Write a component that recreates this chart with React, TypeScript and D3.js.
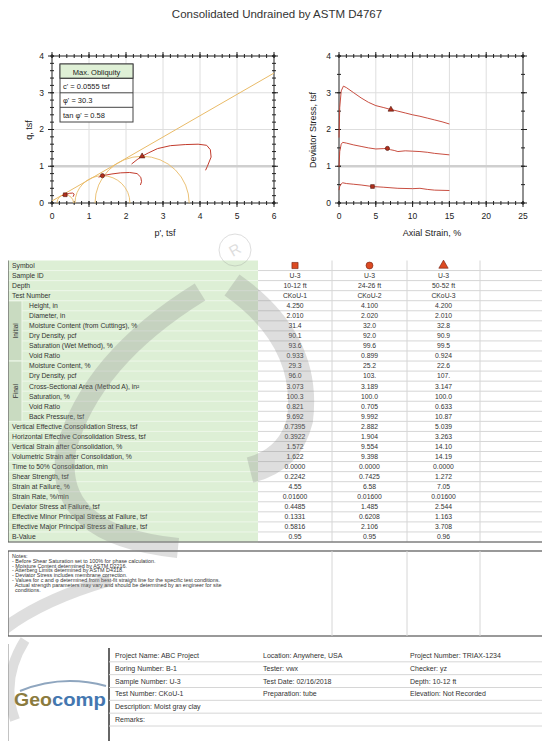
import React from 'react';
import * as d3 from 'd3';

const font = "'Liberation Sans', Arial, sans-serif";

// effective stress paths (p', q), tsf
const path1P = [0.57, 0.6, 0.56, 0.48, 0.4, 0.357, 0.31, 0.27];
const path1Q = [0.17, 0.24, 0.27, 0.265, 0.24, 0.224, 0.21, 0.2];
const path2P = [2.39, 2.42, 2.4, 2.3, 2.1, 1.85, 1.62, 1.45, 1.363, 1.3, 1.26];
const path2Q = [0.49, 0.58, 0.7, 0.8, 0.83, 0.82, 0.79, 0.76, 0.743, 0.72, 0.7];
const path3P = [4.15, 4.2, 4.3, 4.28, 4.18, 3.95, 3.6, 3.2, 2.85, 2.6, 2.436, 2.3, 2.15];
const path3Q = [0.89, 1.0, 1.25, 1.45, 1.57, 1.6, 1.59, 1.56, 1.48, 1.36, 1.272, 1.18, 1.06];

// stresses at failure, tsf
const sigma3 = [0.1331, 0.6208, 1.163];
const sigma1 = [0.5816, 2.106, 3.708];
const failStrain = [4.55, 6.58, 7.05];
const failDev = [0.4485, 1.485, 2.544];
const cohesion = 0.0555;
const tanPhi = 0.58;

// deviator stress vs axial strain
const strain1 = [0, 0.1, 0.3, 0.5, 1, 2, 3, 4.55, 6, 8, 10, 11, 12, 13, 15];
const dev1 = [0.35, 0.45, 0.52, 0.55, 0.53, 0.51, 0.49, 0.4485, 0.43, 0.4, 0.39, 0.4, 0.37, 0.35, 0.34];
const strain2 = [0, 0.1, 0.3, 0.5, 1, 2, 3, 4, 5, 6, 6.58, 7, 7.5, 8, 9, 10, 11, 12, 13, 14, 15];
const dev2 = [0.98, 1.4, 1.6, 1.65, 1.63, 1.58, 1.54, 1.5, 1.47, 1.48, 1.485, 1.45, 1.43, 1.4, 1.42, 1.41, 1.4, 1.38, 1.35, 1.33, 1.31];
const strain3 = [0, 0.1, 0.3, 0.6, 1, 2, 3, 4, 5, 6, 7.05, 8, 9, 10, 11, 12, 13, 14, 15];
const dev3 = [1.78, 2.6, 3.05, 3.18, 3.14, 3.0, 2.86, 2.74, 2.65, 2.6, 2.544, 2.5, 2.45, 2.4, 2.36, 2.31, 2.26, 2.21, 2.15];

const legendLines = ["c' = 0.0555 tsf", "\u03c6' = 30.3", "tan \u03c6' = 0.58"];

// table
const rowLabels = [
  'Symbol', 'Sample ID', 'Depth', 'Test Number',
  'Height, in', 'Diameter, in', 'Moisture Content (from Cuttings), %', 'Dry Density, pcf',
  'Saturation (Wet Method), %', 'Void Ratio',
  'Moisture Content, %', 'Dry Density, pcf', 'Cross-Sectional Area (Method A), in\u00b2',
  'Saturation, %', 'Void Ratio', 'Back Pressure, tsf',
  'Vertical Effective Consolidation Stress, tsf', 'Horizontal Effective Consolidation Stress, tsf',
  'Vertical Strain after Consolidation, %', 'Volumetric Strain after Consolidation, %',
  'Time to 50% Consolidation, min', 'Shear Strength, tsf', 'Strain at Failure, %',
  'Strain Rate, %/min', 'Deviator Stress at Failure, tsf',
  'Effective Minor Principal Stress at Failure, tsf', 'Effective Major Principal Stress at Failure, tsf',
  'B-Value',
];
const test1Values = ['', 'U-3', '10-12 ft', 'CKoU-1', '4.250', '2.010', '31.4', '90.1', '93.6', '0.933', '29.3', '96.0', '3.073', '100.3', '0.821', '9.692', '0.7395', '0.3922', '1.572', '1.622', '0.0000', '0.2242', '4.55', '0.01600', '0.4485', '0.1331', '0.5816', '0.95'];
const test2Values = ['', 'U-3', '24-26 ft', 'CKoU-2', '4.100', '2.020', '32.0', '92.0', '99.6', '0.899', '25.2', '103.', '3.189', '100.0', '0.705', '9.992', '2.882', '1.904', '9.554', '9.398', '0.0000', '0.7425', '6.58', '0.01600', '1.485', '0.6208', '2.106', '0.95'];
const test3Values = ['', 'U-3', '50-52 ft', 'CKoU-3', '4.200', '2.010', '32.8', '90.9', '99.5', '0.924', '22.6', '107.', '3.147', '100.0', '0.633', '10.87', '5.039', '3.263', '14.10', '14.19', '0.0000', '1.272', '7.05', '0.01600', '2.544', '1.163', '3.708', '0.96'];
const groupNames = ['Initial', 'Final'];
const groupStart = [4, 10];
const groupEnd = [9, 15];
const symbolTypes = [d3.symbolSquare, d3.symbolCircle, d3.symbolTriangle];

const notes = [
  'Notes:',
  '- Before Shear Saturation set to 100% for phase calculation.',
  '- Moisture Content determined by ASTM D2216.',
  '- Atterberg Limits determined by ASTM D4318.',
  '- Deviator Stress includes membrane correction.',
  '- Values for c and \u03c6 determined from best-fit straight line for the specific test conditions.',
  '  Actual strength parameters may vary and should be determined by an engineer for site',
  '  conditions.',
];

const infoCol1 = ['Project Name: ABC Project', 'Boring Number: B-1', 'Sample Number: U-3', 'Test Number: CKoU-1', 'Description: Moist gray clay', 'Remarks:'];
const infoCol2 = ['Location: Anywhere, USA', 'Tester: vwx', 'Test Date: 02/16/2018', 'Preparation: tube', '', ''];
const infoCol3 = ['Project Number: TRIAX-1234', 'Checker: yz', 'Depth: 10-12 ft', 'Elevation: Not Recorded', '', ''];

const pathColor = '#c23b2c';
const mohrColor = '#e9bb68';
const markerFill = '#b3301d';

const zip = (a: number[], b: number[]) => a.map((v, i) => [v, b[i]] as [number, number]);

const PlotFrame = ({ x, y, xMajor, xMinorStep, yMajor, yMinorStep }: any) => {
  const [x0, x1] = x.range();
  const [y0, y1] = y.range();
  const xMinor = d3.range(x.domain()[0], x.domain()[1] + 1e-6, xMinorStep);
  const yMinor = d3.range(y.domain()[0], y.domain()[1] + 1e-6, yMinorStep);
  return (
    <g>
      {xMajor.slice(1, -1).map((v: number) => (
        <line key={'gx' + v} x1={x(v)} x2={x(v)} y1={y0} y2={y1} stroke="#dedede" />
      ))}
      {yMajor.slice(1, -1).map((v: number) => (
        <line key={'gy' + v} x1={x0} x2={x1} y1={y(v)} y2={y(v)} stroke={v === 1 ? '#cfcfcf' : '#dedede'} strokeWidth={v === 1 ? 2.5 : 1} />
      ))}
      <rect x={x0} y={y1} width={x1 - x0} height={y0 - y1} fill="none" stroke="#222" />
      {xMinor.map((v: number) => (
        <g key={'mx' + v} stroke="#222">
          <line x1={x(v)} x2={x(v)} y1={y0 - 2} y2={y0 + 2} />
          <line x1={x(v)} x2={x(v)} y1={y1 - 2} y2={y1 + 2} />
        </g>
      ))}
      {yMinor.map((v: number) => (
        <g key={'my' + v} stroke="#222">
          <line x1={x0 - 2} x2={x0 + 2} y1={y(v)} y2={y(v)} />
          <line x1={x1 - 2} x2={x1 + 2} y1={y(v)} y2={y(v)} />
        </g>
      ))}
      {xMajor.map((v: number) => (
        <g key={'tx' + v}>
          <line x1={x(v)} x2={x(v)} y1={y0 - 2} y2={y0 + 4} stroke="#222" />
          <line x1={x(v)} x2={x(v)} y1={y1 - 4} y2={y1 + 2} stroke="#222" />
          <text x={x(v)} y={y0 + 16} textAnchor="middle" fontSize={8.5} fill="#222">{v}</text>
        </g>
      ))}
      {yMajor.map((v: number) => (
        <g key={'ty' + v}>
          <line x1={x0 - 4} x2={x0 + 2} y1={y(v)} y2={y(v)} stroke="#222" />
          <line x1={x1 - 2} x2={x1 + 4} y1={y(v)} y2={y(v)} stroke="#222" />
          <text x={x0 - 8} y={y(v)} dy="0.35em" textAnchor="end" fontSize={8.5} fill="#222">{v}</text>
        </g>
      ))}
    </g>
  );
};

const Marker = ({ type, cx, cy, size, fill, stroke }: any) => (
  <path d={d3.symbol().type(type).size(size)() || ''} transform={`translate(${cx},${cy})`} fill={fill} stroke={stroke} strokeWidth={0.6} />
);

const App = () => {
  const xL = d3.scaleLinear().domain([0, 6]).range([52, 274]);
  const yL = d3.scaleLinear().domain([0, 4]).range([203, 56]);
  const xR = d3.scaleLinear().domain([0, 25]).range([339, 523]);
  const yR = d3.scaleLinear().domain([0, 4]).range([203, 56]);

  const lineL = d3.line<[number, number]>().x((d) => xL(d[0])).y((d) => yL(d[1]));
  const lineR = d3.line<[number, number]>().x((d) => xR(d[0])).y((d) => yR(d[1]));

  const stressPaths = [zip(path1P, path1Q), zip(path2P, path2Q), zip(path3P, path3Q)];
  const devCurves = [zip(strain1, dev1), zip(strain2, dev2), zip(strain3, dev3)];

  const rowY = d3.scaleLinear().domain([0, rowLabels.length]).range([260.5, 542]);
  const colEdges = [258, 332, 407, 480, 548];
  const tableLeft = 8;
  const tableRight = 548;
  const values = [test1Values, test2Values, test3Values];

  const infoY = d3.scaleLinear().domain([0, infoCol1.length]).range([649, 726]);
  const infoX = [115, 263, 410];

  return (
    <svg width={550} height={749} style={{ display: 'block', margin: '-8px' }} fontFamily={font}>
      <rect width={550} height={749} fill="#fff" />
      <text x={277} y={18} textAnchor="middle" fontSize={11.5} fill="#333">Consolidated Undrained by ASTM D4767</text>

      {/* p'-q plot */}
      <defs>
        <clipPath id="clipL"><rect x={52} y={56} width={222} height={147} /></clipPath>
      </defs>
      <PlotFrame x={xL} y={yL} xMajor={d3.range(0, 7)} xMinorStep={0.2} yMajor={d3.range(0, 5)} yMinorStep={0.2} />
      <g clipPath="url(#clipL)" fill="none">
        <line x1={xL(0)} y1={yL(cohesion)} x2={xL(6)} y2={yL(cohesion + 6 * tanPhi)} stroke={mohrColor} strokeWidth={1} />
        {sigma3.map((s3, i) => {
          const r = (sigma1[i] - s3) / 2;
          const rx = xL(r) - xL(0);
          const ry = yL(0) - yL(r);
          return <path key={'m' + i} d={`M${xL(s3)},${yL(0)} A${rx},${ry} 0 0 1 ${xL(sigma1[i])},${yL(0)}`} stroke={mohrColor} strokeWidth={0.9} />;
        })}
        {stressPaths.map((p, i) => (
          <path key={'sp' + i} d={lineL(p) || ''} stroke={pathColor} strokeWidth={1} />
        ))}
      </g>
      {sigma3.map((s3, i) => (
        <Marker key={'fm' + i} type={symbolTypes[i]} cx={xL((s3 + sigma1[i]) / 2)} cy={yL((sigma1[i] - s3) / 2)} size={14} fill={markerFill} stroke="#4a140c" />
      ))}
      <g>
        <rect x={60} y={64} width={73} height={58} fill="#fff" stroke="#444" />
        <rect x={60} y={64} width={73} height={14.3} fill="#dff0d6" stroke="#444" />
        <text x={96.5} y={74.5} textAnchor="middle" fontSize={7.5} fill="#222">Max. Obliquity</text>
        {legendLines.map((t, i) => (
          <g key={'lg' + i}>
            <line x1={60} x2={133} y1={78.3 + i * 14.5} y2={78.3 + i * 14.5} stroke="#444" />
            <text x={63} y={88.5 + i * 14.5} fontSize={7.5} fill="#222">{t}</text>
          </g>
        ))}
      </g>
      <text transform="translate(32,130) rotate(-90)" textAnchor="middle" fontSize={9} fill="#222">q, tsf</text>
      <text x={165} y={236} textAnchor="middle" fontSize={9} fill="#222">p', tsf</text>

      {/* deviator stress plot */}
      <PlotFrame x={xR} y={yR} xMajor={d3.range(0, 30, 5)} xMinorStep={1} yMajor={d3.range(0, 5)} yMinorStep={0.5} />
      <g fill="none">
        {devCurves.map((c, i) => (
          <path key={'dc' + i} d={lineR(c) || ''} stroke={pathColor} strokeWidth={1} opacity={0.9} />
        ))}
      </g>
      {failStrain.map((s, i) => (
        <Marker key={'dm' + i} type={symbolTypes[i]} cx={xR(s)} cy={yR(failDev[i])} size={14} fill={markerFill} stroke="#4a140c" />
      ))}
      <text transform="translate(316,130) rotate(-90)" textAnchor="middle" fontSize={9} fill="#222">Deviator Stress, tsf</text>
      <text x={432} y={236} textAnchor="middle" fontSize={9} fill="#222">Axial Strain, %</text>

      {/* data table */}
      <rect x={tableLeft} y={rowY(0)} width={colEdges[0] - tableLeft} height={rowY(rowLabels.length) - rowY(0)} fill="#ddefd5" />
      {groupNames.map((g, i) => (
        <g key={'grp' + i}>
          <rect x={tableLeft} y={rowY(groupStart[i])} width={14} height={rowY(groupEnd[i] + 1) - rowY(groupStart[i])} fill="#c9dbc1" stroke="#eef7ea" />
          <text transform={`translate(${tableLeft + 9.5},${(rowY(groupStart[i]) + rowY(groupEnd[i] + 1)) / 2}) rotate(-90)`} textAnchor="middle" fontSize={6.5} fill="#333">{g}</text>
        </g>
      ))}
      {rowLabels.map((label, r) => {
        const inGroup = groupStart.some((s, i) => r >= s && r <= groupEnd[i]);
        const y0 = rowY(r);
        const y1 = rowY(r + 1);
        return (
          <g key={'row' + r}>
            <line x1={inGroup ? tableLeft + 14 : tableLeft} x2={colEdges[0]} y1={y1} y2={y1} stroke="#eef7ea" />
            <line x1={colEdges[0]} x2={tableRight} y1={y1} y2={y1} stroke="#d6d6d6" />
            <text x={inGroup ? tableLeft + 21 : tableLeft + 4} y={(y0 + y1) / 2} dy="0.35em" fontSize={6.8} fill="#333">{label}</text>
            {r === 0
              ? values.map((_, c) => (
                  <Marker key={'ts' + c} type={symbolTypes[c]} cx={(colEdges[c] + colEdges[c + 1]) / 2} cy={(y0 + y1) / 2} size={38} fill="#dc4a22" stroke="#6e2012" />
                ))
              : values.map((vals, c) => (
                  <text key={'v' + c} x={(colEdges[c] + colEdges[c + 1]) / 2} y={(y0 + y1) / 2} dy="0.35em" textAnchor="middle" fontSize={6.8} fill="#333">{vals[r]}</text>
                ))}
          </g>
        );
      })}
      {colEdges.slice(1, -1).map((x, i) => (
        <line key={'cv' + i} x1={x} x2={x} y1={rowY(0)} y2={rowY(rowLabels.length)} stroke="#d6d6d6" />
      ))}
      <path d={`M${tableLeft},${rowY(0)} V${rowY(rowLabels.length)} H${tableRight} V${rowY(0)}`} fill="none" stroke="#555" strokeWidth={1.2} />

      {/* notes */}
      <rect x={tableLeft} y={551} width={tableRight - tableLeft} height={85} fill="none" stroke="#555" strokeWidth={1.2} />
      {colEdges.slice(1, -1).map((x, i) => (
        <line key={'nv' + i} x1={x} x2={x} y1={551} y2={636} stroke="#d6d6d6" />
      ))}
      {notes.map((t, i) => (
        <text key={'n' + i} x={12} y={558 + i * 4.8} fontSize={5.4} fill="#333" style={{ whiteSpace: 'pre' }}>{t}</text>
      ))}

      {/* project info */}
      <line x1={8} x2={8} y1={644} y2={749} stroke="#888" />
      <line x1={109} x2={109} y1={648} y2={749} stroke="#333" strokeWidth={1.5} />
      {infoCol1.map((t, r) => (
        <g key={'inf' + r}>
          <line x1={109} x2={549} y1={infoY(r + 1)} y2={infoY(r + 1)} stroke="#d6d6d6" />
          <text x={infoX[0]} y={(infoY(r) + infoY(r + 1)) / 2} dy="0.35em" fontSize={7} fill="#333">{t}</text>
          <text x={infoX[1]} y={(infoY(r) + infoY(r + 1)) / 2} dy="0.35em" fontSize={7} fill="#333">{infoCol2[r]}</text>
          <text x={infoX[2]} y={(infoY(r) + infoY(r + 1)) / 2} dy="0.35em" fontSize={7} fill="#333">{infoCol3[r]}</text>
        </g>
      ))}
      <path d="M20,691 Q62,674 106,686" fill="none" stroke="#8fa6bf" strokeWidth={2} />
      <text x={14} y={706} fontSize={18} fontWeight="bold" fill="#8b7b3e" textLength={38} lengthAdjust="spacingAndGlyphs">Geo</text>
      <text x={52} y={706} fontSize={18} fontWeight="bold" fill="#4477b0" textLength={54} lengthAdjust="spacingAndGlyphs">comp</text>

      {/* watermark */}
      <g opacity={0.28} fill="none" stroke="#8a8a8a">
        <circle cx={235} cy={250} r={16} strokeWidth={1} />
        <text x={235} y={255} textAnchor="middle" fontSize={15} fill="#8a8a8a" stroke="none" transform="rotate(-30,235,250)">R</text>
        <path d="M200,292 Q90,360 66,450 Q52,535 178,548" strokeWidth={20} />
        <path d="M232,285 Q310,340 300,420 Q290,460 250,470" strokeWidth={26} />
        <path d="M0,632 Q40,600 110,580" strokeWidth={12} />
        <path d="M25,640 Q0,680 15,720" strokeWidth={10} />
      </g>
    </svg>
  );
};

export default App;
